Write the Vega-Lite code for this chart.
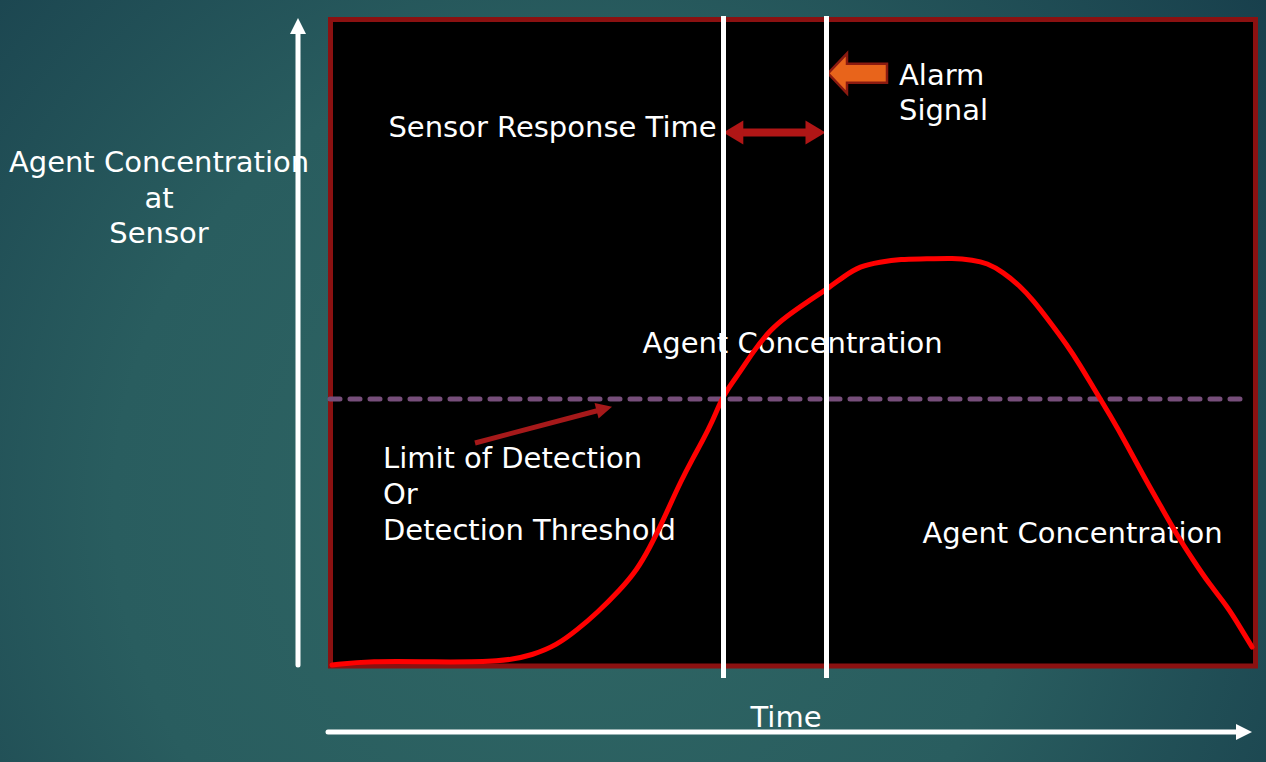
{
  "$schema": "https://vega.github.io/schema/vega-lite/v6.json",
  "width": 1266,
  "height": 762,
  "padding": 0,
  "autosize": {"type": "fit", "contains": "padding"},
  "background": "#1f4d56",
  "config": {"view": {"stroke": null}},
  "datasets": {
    "bg": [{"x": -330, "x2": 936, "y": -95, "y2": 667}],
    "box": [{"x": 0.5, "x2": 925.5, "y": 1, "y2": 647.5}],
    "curve": [
      {"x": 2, "y": 2}, {"x": 40, "y": 6}, {"x": 103, "y": 5}, {"x": 173, "y": 5},
      {"x": 203, "y": 12}, {"x": 227, "y": 22}, {"x": 247, "y": 37}, {"x": 267, "y": 54},
      {"x": 290, "y": 77}, {"x": 307, "y": 97}, {"x": 320, "y": 120}, {"x": 330, "y": 140},
      {"x": 340, "y": 162}, {"x": 350, "y": 184}, {"x": 363, "y": 209}, {"x": 373, "y": 227},
      {"x": 383, "y": 247}, {"x": 390, "y": 264}, {"x": 397, "y": 277}, {"x": 410, "y": 295},
      {"x": 423, "y": 315}, {"x": 440, "y": 337}, {"x": 457, "y": 351}, {"x": 477, "y": 365},
      {"x": 500, "y": 380}, {"x": 513, "y": 390}, {"x": 530, "y": 401},
      {"x": 550, "y": 405}, {"x": 570, "y": 408}, {"x": 597, "y": 408}, {"x": 623, "y": 409},
      {"x": 643, "y": 407}, {"x": 657, "y": 404}, {"x": 673, "y": 395}, {"x": 690, "y": 381},
      {"x": 703, "y": 367}, {"x": 720, "y": 345}, {"x": 737, "y": 322}, {"x": 750, "y": 302},
      {"x": 763, "y": 280}, {"x": 780, "y": 252}, {"x": 797, "y": 222}, {"x": 813, "y": 192},
      {"x": 830, "y": 162}, {"x": 847, "y": 132}, {"x": 863, "y": 107}, {"x": 880, "y": 82},
      {"x": 897, "y": 61}, {"x": 910, "y": 40}, {"x": 922, "y": 20}
    ],
    "threshold": [{"x": 0, "x2": 920, "y": 268}],
    "markers": [{"x": 393.5, "y": 651, "y2": -11}, {"x": 496.5, "y": 651, "y2": -11}],
    "axisShafts": [
      {"x": -32, "y": 2, "x2": -32, "y2": 637},
      {"x": -2, "y": -65, "x2": 910, "y2": -65}
    ],
    "heads": [
      {"name": "up", "x": -32, "y": 641},
      {"name": "right", "x": 914, "y": -65},
      {"name": "srtLeft", "x": 403.3, "y": 534.5},
      {"name": "srtRight", "x": 485.5, "y": 534.5},
      {"name": "lod", "x": 274.3, "y": 258.3},
      {"name": "alarm", "x": 527.5, "y": 593.7}
    ],
    "srtShaft": [{"x": 410, "y": 534.5, "x2": 479, "y2": 534.5}],
    "lodShaft": [{"x": 145, "y": 224, "x2": 270, "y2": 257}],
    "textCenter": [
      {"label": "Agent Concentration", "x": -171, "y": 495},
      {"label": "at", "x": -171, "y": 459.5},
      {"label": "Sensor", "x": -171, "y": 424},
      {"label": "Sensor Response Time", "x": 222.5, "y": 530},
      {"label": "Agent Concentration", "x": 462.5, "y": 314},
      {"label": "Agent Concentration", "x": 742.5, "y": 124},
      {"label": "Time", "x": 456, "y": -60}
    ],
    "textLeft": [
      {"label": "Alarm", "x": 569, "y": 582},
      {"label": "Signal", "x": 569, "y": 547},
      {"label": "Limit of Detection", "x": 53, "y": 199},
      {"label": "Or", "x": 53, "y": 163},
      {"label": "Detection Threshold", "x": 53, "y": 127}
    ]
  },
  "encoding": {
    "x": {"field": "x", "type": "quantitative", "scale": {"domain": [-330, 936], "nice": false, "zero": false}, "axis": null},
    "y": {"field": "y", "type": "quantitative", "scale": {"domain": [-95, 667], "nice": false, "zero": false}, "axis": null}
  },
  "layer": [
    {
      "data": {"name": "bg"},
      "mark": {"type": "rect", "color": {"gradient": "radial", "x1": 0.45, "y1": 0.6, "r1": 0, "x2": 0.45, "y2": 0.6, "r2": 0.72, "stops": [{"offset": 0, "color": "#2f6664"}, {"offset": 0.5, "color": "#295d5f"}, {"offset": 1, "color": "#163c4a"}]}},
      "encoding": {"x2": {"field": "x2"}, "y2": {"field": "y2"}}
    },
    {
      "data": {"name": "box"},
      "mark": {"type": "rect", "fill": "#000000", "stroke": "#8b1111", "strokeWidth": 5},
      "encoding": {"x2": {"field": "x2"}, "y2": {"field": "y2"}}
    },
    {
      "data": {"name": "textCenter"},
      "mark": {"type": "text", "align": "center", "baseline": "alphabetic", "font": "DejaVu Sans", "fontSize": 29, "color": "#ffffff"},
      "encoding": {"text": {"field": "label"}}
    },
    {
      "data": {"name": "textLeft"},
      "mark": {"type": "text", "align": "left", "baseline": "alphabetic", "font": "DejaVu Sans", "fontSize": 29, "color": "#ffffff"},
      "encoding": {"text": {"field": "label"}}
    },
    {
      "data": {"name": "threshold"},
      "mark": {"type": "rule", "color": "#764e7a", "strokeWidth": 5, "strokeDash": [10, 10], "strokeCap": "round"},
      "encoding": {"x2": {"field": "x2"}}
    },
    {
      "data": {"name": "curve"},
      "mark": {"type": "line", "color": "#ff0000", "strokeWidth": 5, "interpolate": "basis", "strokeCap": "round", "strokeJoin": "round"},
      "encoding": {}
    },
    {
      "data": {"name": "axisShafts"},
      "mark": {"type": "rule", "color": "#ffffff", "strokeWidth": 5, "strokeCap": "round"},
      "encoding": {"x2": {"field": "x2"}, "y2": {"field": "y2"}}
    },
    {
      "data": {"name": "heads"},
      "transform": [{"filter": {"field": "name", "equal": "up"}}],
      "mark": {"type": "point", "shape": "M0,-1L1,1L-1,1Z", "size": 256, "filled": true, "opacity": 1, "color": "#ffffff", "strokeWidth": 0}
    },
    {
      "data": {"name": "heads"},
      "transform": [{"filter": {"field": "name", "equal": "right"}}],
      "mark": {"type": "point", "shape": "M1,0L-1,-1L-1,1Z", "size": 256, "filled": true, "opacity": 1, "color": "#ffffff", "strokeWidth": 0}
    },
    {
      "data": {"name": "srtShaft"},
      "mark": {"type": "rule", "color": "#b01616", "strokeWidth": 8},
      "encoding": {"x2": {"field": "x2"}, "y2": {"field": "y2"}}
    },
    {
      "data": {"name": "heads"},
      "transform": [{"filter": {"field": "name", "equal": "srtLeft"}}],
      "mark": {"type": "point", "shape": "M-1,0L1,-1.2L1,1.2Z", "size": 400, "filled": true, "opacity": 1, "color": "#b01616", "strokeWidth": 0}
    },
    {
      "data": {"name": "heads"},
      "transform": [{"filter": {"field": "name", "equal": "srtRight"}}],
      "mark": {"type": "point", "shape": "M1,0L-1,-1.2L-1,1.2Z", "size": 400, "filled": true, "opacity": 1, "color": "#b01616", "strokeWidth": 0}
    },
    {
      "data": {"name": "lodShaft"},
      "mark": {"type": "rule", "color": "#a6191a", "strokeWidth": 5},
      "encoding": {"x2": {"field": "x2"}, "y2": {"field": "y2"}}
    },
    {
      "data": {"name": "heads"},
      "transform": [{"filter": {"field": "name", "equal": "lod"}}],
      "mark": {"type": "point", "shape": "M1,0L-1,-1L-1,1Z", "size": 256, "angle": 345.3, "filled": true, "opacity": 1, "color": "#a6191a", "strokeWidth": 0}
    },
    {
      "data": {"name": "heads"},
      "transform": [{"filter": {"field": "name", "equal": "alarm"}}],
      "mark": {"type": "point", "shape": "M-1,0L-0.356,-0.678L-0.356,-0.322L1,-0.322L1,0.322L-0.356,0.322L-0.356,0.678Z", "size": 3481, "filled": true, "opacity": 1, "fill": "#e8641b", "stroke": "#8a1a10", "strokeWidth": 2.5}
    },
    {
      "data": {"name": "markers"},
      "mark": {"type": "rule", "color": "#ffffff", "strokeWidth": 5},
      "encoding": {"y2": {"field": "y2"}}
    }
  ]
}
